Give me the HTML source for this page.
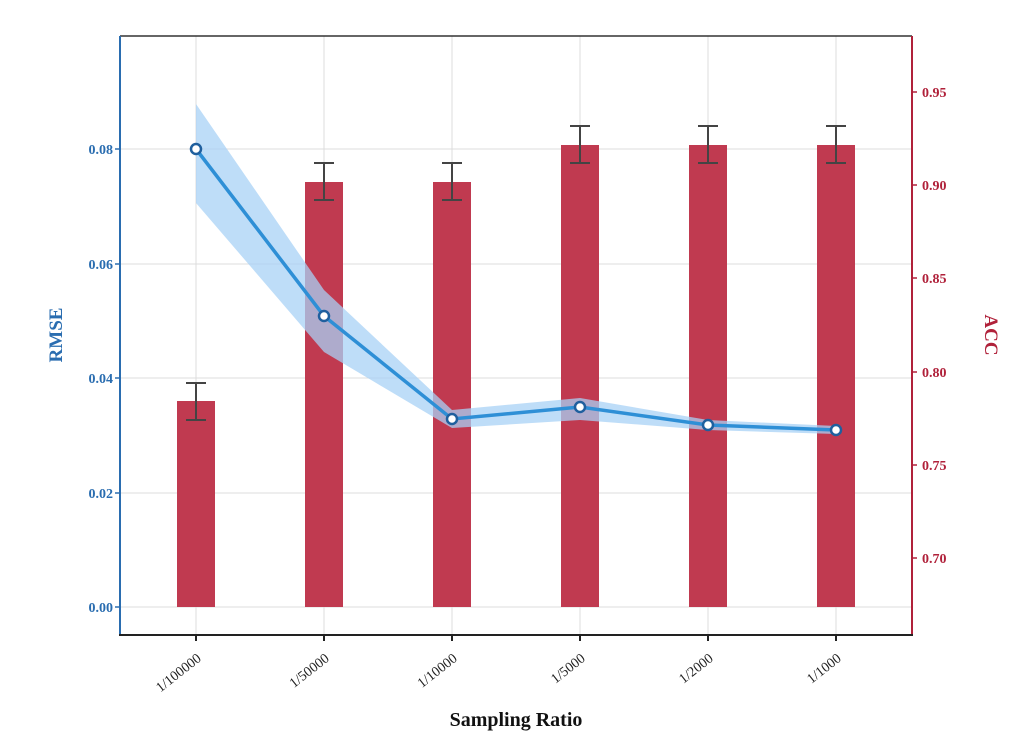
<!DOCTYPE html>
<html><head><meta charset="utf-8"><style>
html,body{margin:0;padding:0;background:#fff;}
svg{display:block;font-family:"Liberation Serif",serif;}
</style></head><body>
<svg width="1024" height="742" viewBox="0 0 1024 742">
<!-- grid -->
<g stroke="#dcdcdc" stroke-width="1">
<line x1="196" y1="36" x2="196" y2="635"/><line x1="324" y1="36" x2="324" y2="635"/>
<line x1="452" y1="36" x2="452" y2="635"/><line x1="580" y1="36" x2="580" y2="635"/>
<line x1="708" y1="36" x2="708" y2="635"/><line x1="836" y1="36" x2="836" y2="635"/>
<line x1="120" y1="607" x2="912" y2="607"/><line x1="120" y1="493" x2="912" y2="493"/>
<line x1="120" y1="378" x2="912" y2="378"/><line x1="120" y1="264" x2="912" y2="264"/>
<line x1="120" y1="149" x2="912" y2="149"/>
</g>
<!-- bars -->
<g fill="#c03a50">
<rect x="177" y="401" width="38" height="206"/>
<rect x="305" y="182" width="38" height="425"/>
<rect x="433" y="182" width="38" height="425"/>
<rect x="561" y="145" width="38" height="462"/>
<rect x="689" y="145" width="38" height="462"/>
<rect x="817" y="145" width="38" height="462"/>
</g>
<g stroke="#444" stroke-width="2" fill="none">
<path d="M196 383V420M186 383H206M186 420H206"/>
<path d="M324 163V200M314 163H334M314 200H334"/>
<path d="M452 163V200M442 163H462M442 200H462"/>
<path d="M580 126V163M570 126H590M570 163H590"/>
<path d="M708 126V163M698 126H718M698 163H718"/>
<path d="M836 126V163M826 126H846M826 163H846"/>
</g>
<!-- band -->
<path d="M196 104L324 290L452 410L580 398L708 420L836 426L836 434L708 430L580 420L452 428L324 352L196 203Z" fill="#a8d2f5" opacity="0.75"/>
<polyline points="196,149 324,316 452,419 580,407 708,425 836,430" fill="none" stroke="#2e8fd6" stroke-width="3.5"/>
<g fill="#fff" stroke="#1f5f9e" stroke-width="2.5">
<circle cx="196" cy="149" r="5"/><circle cx="324" cy="316" r="5"/><circle cx="452" cy="419" r="5"/>
<circle cx="580" cy="407" r="5"/><circle cx="708" cy="425" r="5"/><circle cx="836" cy="430" r="5"/>
</g>
<!-- axes -->
<line x1="120" y1="36" x2="912" y2="36" stroke="#333" stroke-width="1.5"/>
<line x1="120" y1="36" x2="120" y2="635" stroke="#2a6db0" stroke-width="2"/>
<line x1="912" y1="36" x2="912" y2="635" stroke="#b0213a" stroke-width="2"/>
<line x1="119" y1="635" x2="913" y2="635" stroke="#222" stroke-width="2"/>
<g stroke="#2a6db0" stroke-width="1.5">
<line x1="115" y1="607" x2="120" y2="607"/><line x1="115" y1="493" x2="120" y2="493"/><line x1="115" y1="378" x2="120" y2="378"/><line x1="115" y1="264" x2="120" y2="264"/><line x1="115" y1="149" x2="120" y2="149"/>
</g>
<g fill="#2a6db0" font-size="14" font-weight="bold" text-anchor="end">
<text x="113" y="612">0.00</text><text x="113" y="498">0.02</text><text x="113" y="383">0.04</text><text x="113" y="269">0.06</text><text x="113" y="154">0.08</text>
</g>
<text transform="translate(62,335) rotate(-90)" fill="#2a6db0" font-size="19" font-weight="bold" text-anchor="middle">RMSE</text>
<g stroke="#b0213a" stroke-width="1.5">
<line x1="912" y1="92" x2="917" y2="92"/><line x1="912" y1="185" x2="917" y2="185"/><line x1="912" y1="278" x2="917" y2="278"/><line x1="912" y1="372" x2="917" y2="372"/><line x1="912" y1="465" x2="917" y2="465"/><line x1="912" y1="558" x2="917" y2="558"/>
</g>
<g fill="#b0213a" font-size="14" font-weight="bold">
<text x="922" y="97">0.95</text><text x="922" y="190">0.90</text><text x="922" y="283">0.85</text><text x="922" y="377">0.80</text><text x="922" y="470">0.75</text><text x="922" y="563">0.70</text>
</g>
<text transform="translate(985,335) rotate(90)" fill="#b0213a" font-size="19" font-weight="bold" text-anchor="middle">ACC</text>
<g stroke="#222" stroke-width="2">
<line x1="196" y1="635" x2="196" y2="641"/><line x1="324" y1="635" x2="324" y2="641"/><line x1="452" y1="635" x2="452" y2="641"/><line x1="580" y1="635" x2="580" y2="641"/><line x1="708" y1="635" x2="708" y2="641"/><line x1="836" y1="635" x2="836" y2="641"/>
</g>
<g font-size="14" fill="#222" text-anchor="end">
<text transform="translate(202,660) rotate(-38)">1/100000</text>
<text transform="translate(330,660) rotate(-38)">1/50000</text>
<text transform="translate(458,660) rotate(-38)">1/10000</text>
<text transform="translate(586,660) rotate(-38)">1/5000</text>
<text transform="translate(714,660) rotate(-38)">1/2000</text>
<text transform="translate(842,660) rotate(-38)">1/1000</text>
</g>
<text x="516" y="726" font-size="20" font-weight="bold" text-anchor="middle" fill="#111">Sampling Ratio</text>
</svg>
</body></html>
